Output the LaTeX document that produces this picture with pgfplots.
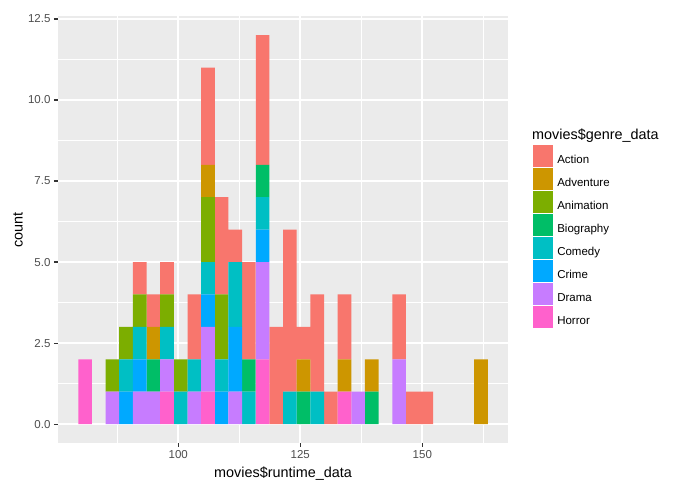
\documentclass[border=0pt]{standalone}
\usepackage{pgfplots}
\usepackage{pgfplotstable}
\pgfplotsset{compat=1.18}
\usepackage{fontspec}
\setmainfont{Liberation Sans}

% ggplot2 hue palette, 8 levels
\definecolor{cAction}{HTML}{F8766D}
\definecolor{cAdventure}{HTML}{CD9600}
\definecolor{cAnimation}{HTML}{7CAE00}
\definecolor{cBiography}{HTML}{00BE67}
\definecolor{cComedy}{HTML}{00BFC4}
\definecolor{cCrime}{HTML}{00A9FF}
\definecolor{cDrama}{HTML}{C77CFF}
\definecolor{cHorror}{HTML}{FF61CC}
\definecolor{panelbg}{HTML}{EBEBEB}
\definecolor{tickgray}{HTML}{4D4D4D}
\definecolor{tickmark}{HTML}{333333}

% counts per runtime bin (30 bins, width about 2.8 min)
\pgfplotstableread{
x      Horror Drama Crime Comedy Biography Animation Adventure Action
80.91  2 0 0 0 0 0 0 0
83.71  0 0 0 0 0 0 0 0
86.50  0 1 0 0 0 1 0 0
89.30  0 0 1 1 0 1 0 0
92.10  0 1 1 1 0 1 0 1
94.90  0 1 0 0 1 0 1 1
97.69  1 1 0 1 0 1 0 1
100.49 0 0 0 1 0 1 0 0
103.29 0 1 0 1 0 0 0 2
106.08 1 2 1 1 0 2 1 3
108.88 0 0 1 1 0 2 0 3
111.68 0 1 2 2 0 0 0 1
114.47 0 0 0 1 1 0 0 3
117.27 2 3 1 1 1 0 0 4
120.07 0 0 0 0 0 0 0 3
122.87 0 0 0 1 0 0 0 5
125.66 0 0 0 0 1 0 1 1
128.46 0 0 0 1 0 0 0 3
131.26 0 0 0 0 0 0 0 1
134.05 1 0 0 0 0 0 1 2
136.85 0 1 0 0 0 0 0 0
139.65 0 0 0 0 1 0 1 0
142.44 0 0 0 0 0 0 0 0
145.24 0 2 0 0 0 0 0 2
148.04 0 0 0 0 0 0 0 1
150.84 0 0 0 0 0 0 0 1
153.63 0 0 0 0 0 0 0 0
156.43 0 0 0 0 0 0 0 0
159.23 0 0 0 0 0 0 0 0
162.02 0 0 0 0 0 0 2 0
}\runtimes

\begin{document}
\begin{tikzpicture}
\useasboundingbox (-57.7pt,-50.7pt) rectangle (620.3pt,443.3pt);
\begin{axis}[
  at={(0pt,0pt)}, anchor=south west,
  scale only axis,
  width=450.6pt, height=427.3pt,
  xmin=75.29, xmax=167.62,
  ymin=-0.59, ymax=12.59,
  ybar stacked, bar width=2.797,
  legend image code/.code={\fill[#1] (0pt,-6.6pt) rectangle (20.6pt,15pt);},
  axis x line*=bottom, axis y line*=left,
  axis line style={draw=none},
  axis background/.style={fill=panelbg},
  xtick={100,125,150},
  ytick={0,2.5,5,7.5,10,12.5},
  minor xtick={87.5,112.5,137.5,162.5},
  minor ytick={1.25,3.75,6.25,8.75,11.25},
  grid=both,
  major grid style={white, line width=1.9pt},
  minor grid style={white, line width=0.95pt},
  tick align=outside,
  major tick length=3.7pt, minor tick length=0pt,
  tick style={tickmark, line width=1.2pt},
  /pgf/number format/assume math mode=true,
  ticklabel style={font=\fontsize{11.5}{13}\selectfont, text=tickgray},
  yticklabel style={/pgf/number format/fixed, /pgf/number format/fixed zerofill, /pgf/number format/precision=1},
  xlabel={movies\$runtime\_data},
  ylabel={count},
  label style={font=\fontsize{14.4}{16}\selectfont},
  xlabel style={at={(axis description cs:0.5,-0.0796)}, anchor=base},
  ylabel style={at={(axis description cs:-0.0777,0.5)}, anchor=base},
  reverse legend,
  legend cell align=left,
  legend style={at={(axis description cs:1.0541,0.6976)}, anchor=north west,
    draw=none, fill=none, inner sep=0pt, outer sep=0pt,
    row sep=1.4pt, column sep=4pt,
    font=\fontsize{11.5}{13}\selectfont,
    nodes={inner sep=0pt}},
  clip=false,
]
\addplot[fill=cHorror, draw=none] table[x=x, y=Horror] {\runtimes};
\addlegendentry{Horror}
\addplot[fill=cDrama, draw=none] table[x=x, y=Drama] {\runtimes};
\addlegendentry{Drama}
\addplot[fill=cCrime, draw=none] table[x=x, y=Crime] {\runtimes};
\addlegendentry{Crime}
\addplot[fill=cComedy, draw=none] table[x=x, y=Comedy] {\runtimes};
\addlegendentry{Comedy}
\addplot[fill=cBiography, draw=none] table[x=x, y=Biography] {\runtimes};
\addlegendentry{Biography}
\addplot[fill=cAnimation, draw=none] table[x=x, y=Animation] {\runtimes};
\addlegendentry{Animation}
\addplot[fill=cAdventure, draw=none] table[x=x, y=Adventure] {\runtimes};
\addlegendentry{Adventure}
\addplot[fill=cAction, draw=none] table[x=x, y=Action] {\runtimes};
\addlegendentry{Action}
\node[anchor=base west, font=\fontsize{14.4}{16}\selectfont, inner sep=0pt]
  at (axis description cs:1.0526,0.7098) {movies\$genre\_data};
\end{axis}
\end{tikzpicture}
\end{document}
